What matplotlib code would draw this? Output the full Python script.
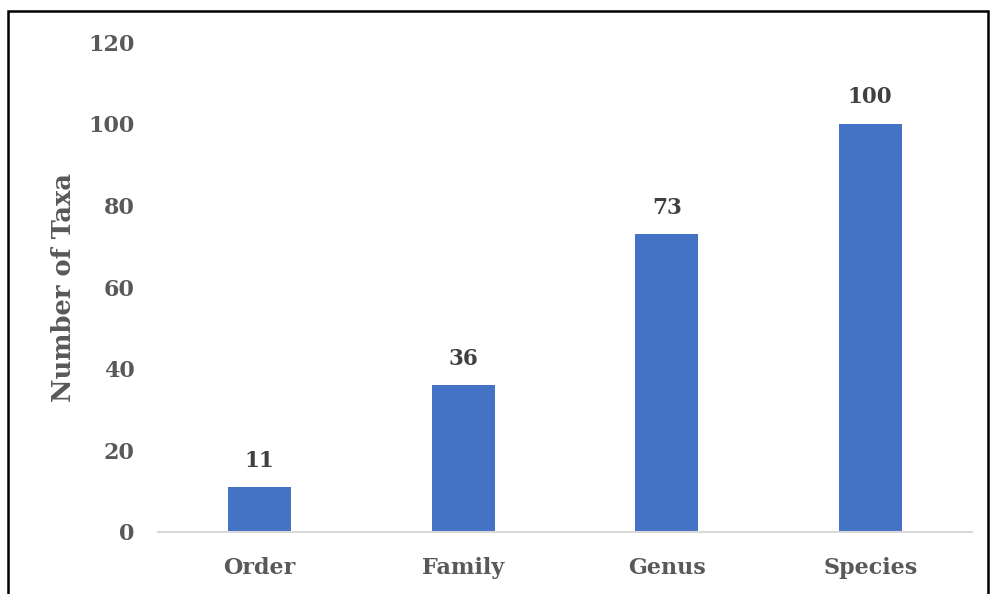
import matplotlib.pyplot as plt
from matplotlib.patches import Rectangle

# Data
categories = ['Order', 'Family', 'Genus', 'Species']
taxa_counts = [11, 36, 73, 100]

plt.rcParams['font.family'] = 'DejaVu Serif'
plt.rcParams['font.weight'] = 'bold'

fig = plt.figure(figsize=(9.91, 5.94), dpi=100)
ax = fig.add_axes([158 / 991, 1 - 532 / 594, (972 - 158) / 991, (532 - 42) / 594])

bars = ax.bar(categories, taxa_counts, width=0.31, color='#4472C4')

# Value labels above bars
for bar, val in zip(bars, taxa_counts):
    ax.annotate(str(val), (bar.get_x() + bar.get_width() / 2, val),
                xytext=(0, 11), textcoords='offset points',
                ha='center', va='bottom', fontsize=15.5, fontweight='bold', color='#404040')

ax.set_xlim(-0.5, 3.5)
ax.set_ylim(0, 120)
ax.set_yticks(range(0, 121, 20))
ax.tick_params(axis='both', length=0, labelsize=16, labelcolor='#595959')
ax.tick_params(axis='y', pad=17)
ax.tick_params(axis='x', pad=18)
for lbl in ax.get_xticklabels() + ax.get_yticklabels():
    lbl.set_fontweight('bold')

ax.set_ylabel('Number of Taxa', fontsize=18.5, fontweight='bold', color='#595959', labelpad=9)

for side in ['top', 'right', 'left']:
    ax.spines[side].set_visible(False)
ax.spines['bottom'].set_color('#D9D9D9')
ax.spines['bottom'].set_linewidth(1.5)

# Black frame around the chart
fig.patches.append(Rectangle((8 / 991, -0.05), (988 - 8) / 991, 1.05 - 11 / 594,
                             transform=fig.transFigure, fill=False,
                             edgecolor='black', linewidth=1.8))

fig.savefig('out.png', dpi=100)
